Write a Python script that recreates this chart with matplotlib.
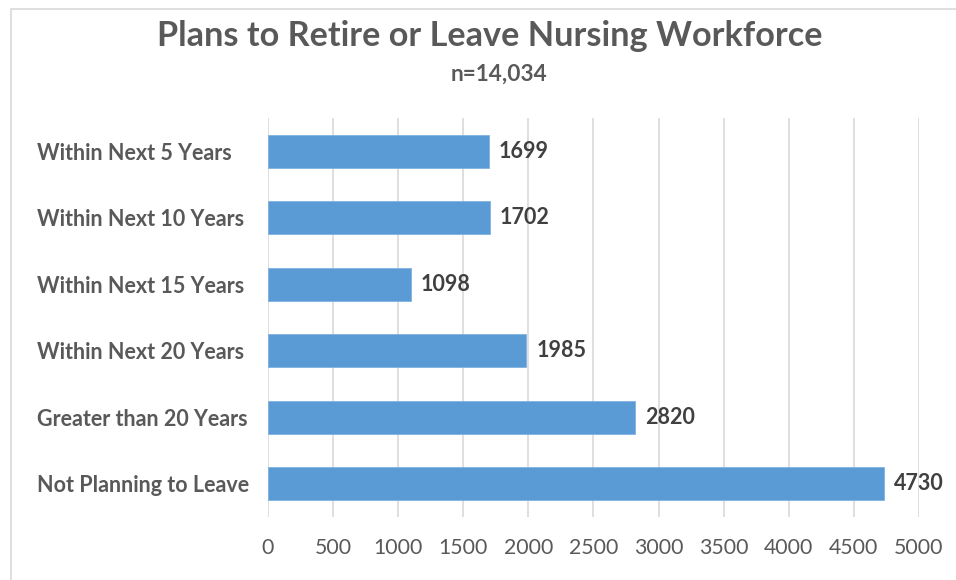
import matplotlib.pyplot as plt
from matplotlib.patches import Rectangle

categories = ['Within Next 5 Years', 'Within Next 10 Years', 'Within Next 15 Years',
              'Within Next 20 Years', 'Greater than 20 Years', 'Not Planning to Leave']
counts = [1699, 1702, 1098, 1985, 2820, 4730]
x_ticks = [0, 500, 1000, 1500, 2000, 2500, 3000, 3500, 4000, 4500, 5000]

plt.rcParams['font.family'] = ['Lato', 'DejaVu Sans']

fig = plt.figure(figsize=(9.56, 5.8), dpi=100)
ax = fig.add_axes([0.2803, 0.1086, 0.681, 0.688])

# chart border like excel
fig.patches.append(Rectangle((11 / 956, -0.01), 1.1, 1 - 9 / 580 + 0.01, transform=fig.transFigure,
                             fill=False, edgecolor='#D9D9D9', linewidth=1.2))

y = list(range(len(categories)))
ax.barh(y, counts, height=0.5, color='#5B9BD5', edgecolor='#7FB2E0', linewidth=0.6, zorder=3)
ax.set_ylim(len(categories) - 0.5, -0.5)
ax.set_xlim(0, 5000)

for yi, v in zip(y, counts):
    ax.text(v + 75, yi, str(v), va='center', ha='left', fontsize=15.5, fontweight='bold', color='#404040')

ax.set_xticks(x_ticks)
ax.set_xticklabels([str(t) for t in x_ticks], fontsize=15.3, color='#595959')
ax.set_yticks(y)
ax.set_yticklabels(categories, fontsize=15.5, fontweight='bold', color='#595959', ha='left')
ax.tick_params(axis='y', length=0, pad=(268 - 37) * 0.72)
ax.tick_params(axis='x', length=0, pad=15)
ax.grid(axis='x', color='#D9D9D9', linewidth=1.2, zorder=0)
for s in ax.spines.values():
    s.set_visible(False)

fig.text(490 / 956, 1 - 36 / 580, 'Plans to Retire or Leave Nursing Workforce', ha='center', va='center',
         fontsize=24.7, fontweight='bold', color='#595959')
fig.text(499.5 / 956, 1 - 74 / 580, 'n=14,034', ha='center', va='center',
         fontsize=16.3, fontweight='bold', color='#595959')

fig.savefig('out.png', dpi=100)
